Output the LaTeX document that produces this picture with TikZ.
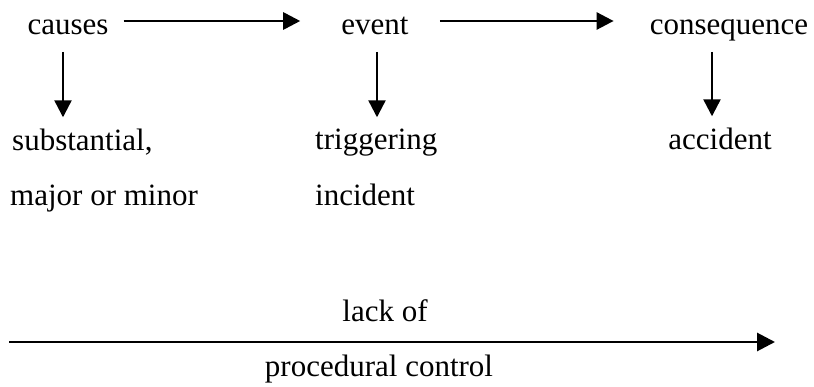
\documentclass[tikz,border=0pt]{standalone}
\usepackage{fontspec}
\setmainfont{Liberation Serif}
\usetikzlibrary{arrows.meta,calc}
\begin{document}
\begin{tikzpicture}[x=1pt,y=-1pt,
  lbl/.style={inner sep=0pt, font=\fontsize{31}{37}\selectfont},
  flow/.style={line width=2.7pt, -{Triangle[length=17pt,width=17pt]}},
  down/.style={line width=2.4pt, shorten >=12pt, -{Triangle[length=17pt,width=17pt]}},
  long/.style={line width=2.9pt, -{Triangle[length=18pt,width=18pt]}},
]
\useasboundingbox (0,0) rectangle (814,387);

% top row
\node[lbl, anchor=base] (causes) at (68,35) {causes};
\node[lbl, anchor=base] (event) at (375,35) {event};
\node[lbl, anchor=base] (conseq) at (729,35) {consequence};

% second row
\node[lbl, anchor=base west] (sub) at (12,151) {substantial,};
\node[lbl, anchor=base west] (major) at (10,206) {major or minor};
\node[lbl, anchor=base west] (trig) at (315,150) {triggering};
\node[lbl, anchor=base west] (incid) at (315,206) {incident};
\node[lbl, anchor=base] (acc) at (720,150) {accident};

% bottom labels
\node[lbl, anchor=base] (lack) at (385,322) {lack of};
\node[lbl, anchor=base] (proc) at (379,376) {procedural control};

% horizontal flow arrows
\draw[flow] ([xshift=15pt,yshift=14pt]causes.base east) -- ([xshift=-41pt,yshift=14pt]event.base west);
\draw[flow] ([xshift=31pt,yshift=14pt]event.base east) -- ([xshift=-36pt,yshift=14pt]conseq.base west);

% vertical arrows
\path (causes.base) ++(-5,17) coordinate (c0);
\path (event.base) ++(2,17) coordinate (e0);
\path (conseq.base) ++(-17,17) coordinate (q0);
\draw[down] (c0) -- (c0 |- sub.north);
\draw[down] (e0) -- (e0 |- trig.north);
\draw[down] (q0) -- (q0 |- acc.north);

% long arrow
\coordinate (ls) at (9,342);
\coordinate (le) at (775,342);
\draw[long] (ls) -- (le);
\end{tikzpicture}
\end{document}
